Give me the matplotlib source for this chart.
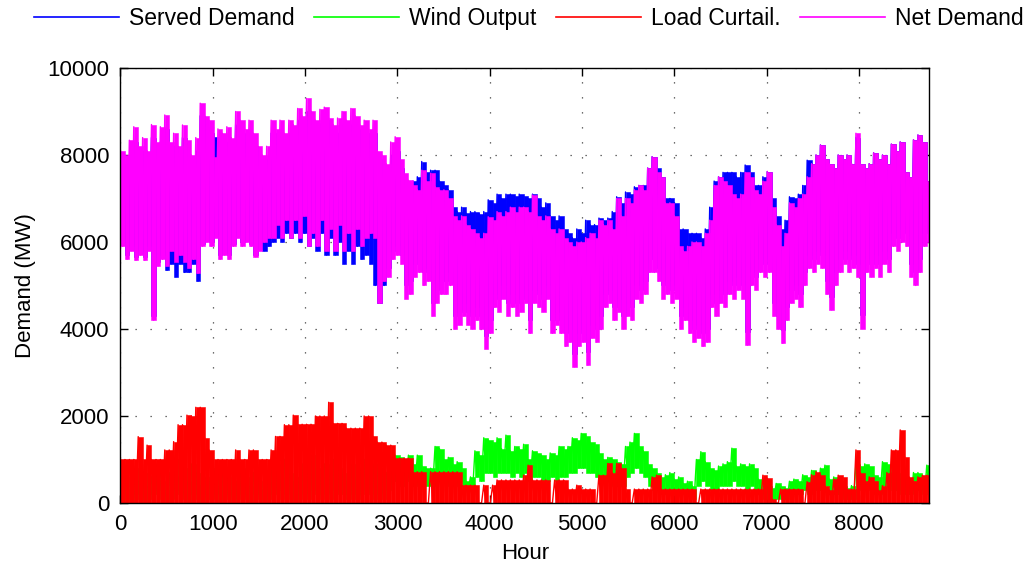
import numpy as np
import matplotlib
matplotlib.use("Agg")
import matplotlib.pyplot as plt
from matplotlib.lines import Line2D

plt.rcParams['font.family'] = ['Liberation Sans', 'DejaVu Sans']

# Two-day samples over the year: each sample holds the peak and the trough (MW)
SAMPLE_HOURS = 48

net_hi = [
    8100, 8000, 8340, 8650, 8200, 8400, 8100, 8700, 8300, 8650,
    8920, 8300, 8500, 8200, 8690, 8350, 8000, 8400, 9190, 8900,
    8800, 7960, 8600, 8500, 8650, 8400, 9000, 8800, 8600, 8800,
    8500, 8200, 8000, 8200, 8800, 8600, 8800, 8500, 8800, 8700,
    9070, 8900, 9300, 9000, 8800, 9050, 9100, 8850, 8700, 8850,
    9000, 8800, 9070, 8900, 8700, 8800, 8600, 8800, 8100, 8000,
    7800, 8300, 8420, 7900, 7580, 7420, 7300, 7200, 7650, 7400,
    7580, 7270, 7200, 7200, 7000, 6600, 6500, 6600, 6400, 6300,
    6200, 6100, 6200, 6580, 6500, 6700, 6600, 6700, 6800, 6700,
    6800, 6800, 6700, 7080, 6600, 6500, 6600, 6300, 6200, 6300,
    6100, 6000, 5900, 6000, 6000, 6100, 6200, 6100, 6500, 6400,
    6500, 6300, 7000, 6600, 7000, 6900, 7200, 7300, 7200, 7700,
    7960, 7600, 7500, 6900, 6900, 6600, 5900, 5800, 5900, 6000,
    6000, 5900, 6200, 6500, 7300, 7500, 7400, 7300, 7100, 7000,
    7100, 7600, 7500, 7200, 7100, 7400, 7620, 6800, 6400, 5900,
    6200, 6900, 6800, 7000, 7100, 7500, 7800, 8000, 8230, 7900,
    7800, 7700, 8000, 7900, 8000, 7800, 8500, 7800, 7700, 7800,
    8050, 7900, 8000, 7800, 8250, 8100, 8300, 7600, 7500, 8350,
    8460, 8300, 7400,
]
net_lo = [
    5900, 5600, 5800, 5580, 5700, 5580, 5800, 4200, 5450, 5600,
    5450, 5800, 5550, 5700, 5550, 5400, 5600, 5280, 5900, 6000,
    5900, 6100, 5600, 5700, 5600, 5900, 6100, 5900, 6000, 5900,
    5660, 5800, 6000, 6100, 6100, 6400, 6100, 6500, 6100, 6500,
    6100, 6600, 5900, 6200, 5900, 6500, 5800, 6300, 5800, 6400,
    5800, 6200, 5800, 6300, 5900, 6100, 6200, 6100, 4590, 5100,
    5200, 5600, 5700, 5500, 4700, 4800, 5200, 5300, 5000, 5100,
    4300, 4600, 4800, 4800, 5000, 4000, 4100, 4300, 4100, 4000,
    4200, 4000, 3550, 3900, 4500, 4400, 4700, 4300, 4500, 4300,
    4400, 4600, 3900, 4600, 4500, 4400, 4700, 3900, 4100, 3900,
    3600, 3700, 3130, 3600, 3700, 3170, 3800, 3700, 4000, 4500,
    4600, 4200, 4400, 4000, 4300, 4200, 4700, 4600, 4800, 5300,
    5300, 5100, 4700, 4800, 4600, 4700, 4000, 4200, 3900, 3700,
    3800, 3600, 3700, 4500, 4300, 4600, 4500, 4800, 4700, 4900,
    4700, 3630, 5000, 4900, 5300, 5200, 5300, 4300, 4000, 3670,
    4200, 4600, 4700, 4500, 5000, 5400, 5300, 5500, 5400, 4800,
    4440, 5000, 5300, 5500, 5300, 5400, 5200, 4010, 5300, 5200,
    5400, 5200, 5500, 5300, 5900, 5800, 6000, 5900, 5200, 5000,
    5300, 5900, 6000,
]

served_hi = [
    7800, 7700, 8000, 8300, 7900, 8100, 7800, 8400, 8000, 8300,
    8600, 8000, 8200, 7900, 8400, 8000, 7700, 8100, 8900, 8600,
    8500, 8420, 8300, 8200, 8300, 8100, 8700, 8500, 8300, 8500,
    8200, 7900, 7700, 7900, 8500, 8300, 8500, 8200, 8500, 8400,
    8800, 8600, 9000, 8700, 8500, 8700, 8800, 8500, 8400, 8500,
    8700, 8500, 8700, 8600, 8400, 8500, 8300, 8500, 7900, 7800,
    7600, 8000, 8100, 7700, 7400, 7400, 7400, 7500, 7850, 7600,
    7650, 7650, 7400, 7300, 7200, 6800, 6700, 6800, 6660, 6700,
    6700, 6650, 6700, 6970, 6900, 7100, 7000, 7100, 7100, 7050,
    7100, 7050, 7000, 7100, 7000, 6800, 6900, 6600, 6500, 6600,
    6300, 6200, 6100, 6300, 6200, 6500, 6400, 6400, 6550, 6500,
    6550, 6700, 7040, 6900, 7150, 7100, 7270, 7300, 7300, 7700,
    7960, 7700, 7500, 7000, 7000, 6900, 6300, 6300, 6200, 6200,
    6200, 6100, 6300, 6800, 7400, 7500, 7600, 7600, 7600, 7500,
    7600, 7770, 7600, 7300, 7300, 7500, 7620, 7000, 6600, 6300,
    6500, 7040, 7000, 7100, 7300, 7880, 7800, 8000, 8230, 7900,
    7800, 7700, 8000, 7900, 8000, 7800, 8400, 7800, 7700, 7800,
    8050, 7900, 8000, 7800, 8250, 8100, 8300, 7600, 7500, 8350,
    8460, 8300, 7400,
]
served_lo = [
    6000, 5700, 5900, 5650, 5800, 5650, 5900, 4300, 5550, 5700,
    5350, 5500, 5200, 5500, 5300, 5300, 5500, 5100, 5950, 6050,
    6000, 6150, 5700, 5750, 5700, 5950, 6150, 6000, 6050, 5950,
    5700, 5850, 5800, 5900, 6000, 6100, 6000, 6200, 6100, 6200,
    6000, 6200, 5900, 6100, 5800, 6200, 5700, 6100, 5700, 6000,
    5500, 5800, 5500, 5900, 5600, 5700, 5500, 5000, 4590, 5000,
    5400, 5800, 5900, 5700, 5000, 5100, 5500, 5600, 5300, 5400,
    4600, 4900, 5100, 5100, 5300, 4300, 4400, 4600, 4400, 4300,
    4500, 4300, 3850, 4200, 4800, 4700, 5000, 4600, 4800, 4600,
    4700, 4900, 4200, 4900, 4800, 4700, 5000, 4200, 4400, 4200,
    3900, 4000, 3430, 3900, 4000, 3470, 4100, 4000, 4300, 4800,
    4900, 4500, 4700, 4300, 4600, 4500, 5000, 4900, 5100, 5600,
    5600, 5400, 5000, 5100, 4900, 5000, 4300, 4500, 4200, 4000,
    4100, 3900, 4000, 4800, 4600, 4900, 4800, 5100, 5000, 5200,
    5000, 3930, 5300, 5200, 5600, 5500, 5600, 4600, 4300, 3970,
    4500, 4900, 5000, 4800, 5300, 5700, 5600, 5800, 5700, 5100,
    4740, 5300, 5600, 5800, 5600, 5700, 5500, 4310, 5600, 5500,
    5700, 5500, 5800, 5600, 6200, 6100, 6300, 6200, 5500, 5300,
    5600, 6200, 6300,
]

wind_hi = [
    400, 600, 300, 800, 500, 700, 400, 600, 900, 500,
    300, 700, 1000, 600, 800, 500, 900, 700, 400, 600,
    500, 800, 400, 700, 600, 300, 500, 800, 600, 400,
    700, 500, 300, 600, 800, 900, 600, 1000, 700, 500,
    600, 900, 700, 1100, 800, 600, 900, 700, 1000, 800,
    700, 500, 900, 600, 800, 1000, 700, 900, 800, 600,
    700, 1000, 1100, 1050, 1000, 1100, 900, 1100, 850, 800,
    800, 1300, 1250, 1000, 1050, 900, 950, 800, 500, 600,
    1200, 1100, 1500, 1450, 1400, 1500, 1250, 1560, 1200, 1300,
    1250, 1350, 1000, 1200, 1150, 1100, 1000, 1150, 1100, 1300,
    1250, 1300, 1500, 1450, 1600, 1550, 1400, 1350, 1150, 1000,
    1050, 1000, 950, 900, 1300, 1400, 1600, 1300, 1200, 900,
    800, 700, 600, 650, 700, 550, 600, 450, 500, 400,
    1000, 1180, 950, 800, 750, 850, 900, 950, 1260, 850,
    900, 850, 900, 800, 550, 500, 400, 350, 450, 400,
    350, 500, 550, 500, 650, 600, 750, 700, 800, 870,
    550, 600, 500, 400, 350, 400, 900, 850, 900, 850,
    650, 600, 950, 900, 700, 700, 550, 600, 500, 700,
    700, 600, 870,
]
wind_lo = [
    0, 100, 0, 200, 100, 0, 100, 200, 300, 100,
    0, 100, 300, 200, 100, 0, 200, 100, 0, 100,
    100, 200, 0, 100, 200, 0, 100, 200, 100, 0,
    200, 100, 0, 100, 200, 300, 100, 200, 100, 0,
    100, 200, 100, 300, 200, 100, 200, 100, 300, 200,
    200, 100, 200, 100, 200, 300, 200, 100, 200, 100,
    300, 500, 500, 400, 600, 500, 400, 500, 400, 400,
    400, 600, 500, 500, 400, 400, 500, 400, 300, 300,
    600, 500, 700, 700, 600, 700, 700, 700, 600, 700,
    600, 700, 500, 600, 600, 500, 500, 600, 500, 600,
    600, 700, 700, 800, 800, 700, 700, 600, 500, 500,
    500, 400, 400, 400, 600, 700, 800, 700, 600, 400,
    300, 300, 200, 300, 300, 200, 300, 200, 200, 100,
    400, 500, 400, 300, 300, 400, 400, 400, 500, 400,
    400, 300, 400, 300, 200, 100, 100, 100, 100, 100,
    100, 200, 200, 200, 300, 200, 300, 300, 300, 400,
    200, 200, 200, 100, 100, 100, 400, 300, 400, 300,
    200, 200, 400, 400, 300, 300, 200, 200, 200, 300,
    300, 200, 400,
]

curtail_hi = [
    1000, 1000, 1000, 1000, 1525, 1000, 1330, 1000, 1000, 1000,
    1220, 1220, 1410, 1800, 1800, 2020, 2000, 2200, 2200, 1500,
    1220, 1000, 1000, 1000, 1000, 1000, 1220, 1000, 1000, 1220,
    1220, 1000, 1000, 1000, 1220, 1530, 1530, 1800, 1800, 2020,
    1810, 1810, 1810, 1810, 2000, 2000, 2000, 2315, 1830, 1830,
    1830, 1720, 1720, 1720, 1720, 2000, 2000, 1530, 1400, 1400,
    1330, 1330, 1030, 1030, 1030, 1030, 720, 720, 720, 0,
    720, 720, 720, 720, 720, 720, 720, 410, 410, 410,
    410, 0, 410, 0, 410, 530, 530, 530, 530, 530,
    530, 640, 870, 530, 530, 530, 530, 0, 530, 530,
    530, 320, 320, 410, 320, 320, 320, 0, 640, 640,
    910, 700, 910, 800, 320, 0, 320, 320, 320, 320,
    600, 640, 320, 320, 320, 320, 320, 320, 320, 320,
    0, 320, 320, 320, 320, 320, 320, 320, 320, 320,
    320, 320, 320, 320, 320, 640, 570, 100, 0, 320,
    320, 320, 320, 320, 0, 490, 650, 720, 650, 400,
    300, 550, 640, 600, 320, 320, 1220, 700, 500, 600,
    500, 300, 400, 700, 1220, 1220, 1680, 1060, 600, 500,
    600, 640, 640,
]
curtail_lo = [
    0, 0, 0, 0, 0, 0, 0, 0, 0, 0,
    0, 0, 0, 0, 0, 0, 0, 0, 0, 0,
    0, 0, 0, 0, 0, 0, 0, 0, 0, 0,
    0, 0, 0, 0, 0, 0, 0, 0, 0, 0,
    0, 0, 0, 0, 0, 0, 0, 0, 0, 0,
    0, 0, 0, 0, 0, 0, 0, 0, 0, 0,
    0, 0, 0, 0, 0, 0, 0, 0, 0, 0,
    0, 0, 0, 0, 0, 0, 0, 0, 0, 0,
    0, 0, 0, 0, 0, 0, 0, 0, 0, 0,
    0, 0, 0, 0, 0, 0, 0, 0, 0, 0,
    0, 0, 0, 0, 0, 0, 0, 0, 0, 0,
    0, 0, 0, 0, 0, 0, 0, 0, 0, 0,
    0, 0, 0, 0, 0, 0, 0, 0, 0, 0,
    0, 0, 0, 0, 0, 0, 0, 0, 0, 0,
    0, 0, 0, 0, 0, 0, 0, 0, 0, 0,
    0, 0, 0, 0, 0, 0, 0, 0, 0, 0,
    0, 0, 0, 0, 0, 0, 0, 0, 0, 0,
    0, 0, 0, 0, 0, 0, 0, 0, 0, 0,
    0, 0, 0,
]

series_labels = ["Served Demand", "Wind Output", "Load Curtail.", "Net Demand"]
series_colors = ["#0000ff", "#00ff00", "#ff0000", "#ff00ff"]


def peak_trough_trace(hi, lo):
    """Alternate each sample's peak and trough half a sample apart."""
    hi = np.asarray(hi, dtype=float)
    lo = np.asarray(lo, dtype=float)
    start = np.arange(len(hi)) * SAMPLE_HOURS
    x = np.empty(2 * len(hi))
    y = np.empty(2 * len(hi))
    x[0::2] = start
    x[1::2] = start + SAMPLE_HOURS / 2
    y[0::2] = hi
    y[1::2] = lo
    return x, y


fig = plt.figure(figsize=(10.28, 5.67), dpi=100)
ax = fig.add_axes([0.1172, 0.1129, 0.7865, 0.7672])

series = [
    (served_hi, served_lo),
    (wind_hi, wind_lo),
    (curtail_hi, curtail_lo),
    (net_hi, net_lo),
]
for z, ((hi, lo), color) in enumerate(zip(series, series_colors)):
    hi_a = np.asarray(hi, dtype=float)
    lo_a = np.asarray(lo, dtype=float)
    start = np.arange(len(hi_a)) * SAMPLE_HOURS
    # each two-day window spans from its trough to its peak
    ax.bar(start, hi_a - lo_a, bottom=lo_a, width=SAMPLE_HOURS, align='edge',
           color=color, edgecolor=color, linewidth=0.4, zorder=2 + z)
    x, y = peak_trough_trace(hi, lo)
    ax.plot(x, y, color=color, lw=1.0, zorder=2 + z)

ax.set_xlim(0, 8760)
ax.set_ylim(0, 10000)
ax.set_xticks(np.arange(0, 8001, 1000))
ax.set_yticks(np.arange(0, 10001, 2000))
ax.tick_params(direction='in', length=6, width=1, top=True, right=True,
               labelsize=16, pad=8)
ax.grid(True, linestyle=(0, (1, 11)), color='#404040', linewidth=0.9)
ax.set_axisbelow(True)
for sp in ax.spines.values():
    sp.set_linewidth(1.0)
    sp.set_zorder(10)
ax.set_xlabel("Hour", fontsize=16, labelpad=6)
ax.set_ylabel("Demand (MW)", fontsize=16, labelpad=8)

handles = [Line2D([], [], color=c, lw=1.2) for c in series_colors]
fig.legend(handles, series_labels, loc='center', bbox_to_anchor=(0.5146, 0.968),
           ncol=4, frameon=False, fontsize=16.5, handlelength=3.7,
           handletextpad=0.45, columnspacing=0.85, borderpad=0, borderaxespad=0)

fig.savefig("out.png", dpi=100)
